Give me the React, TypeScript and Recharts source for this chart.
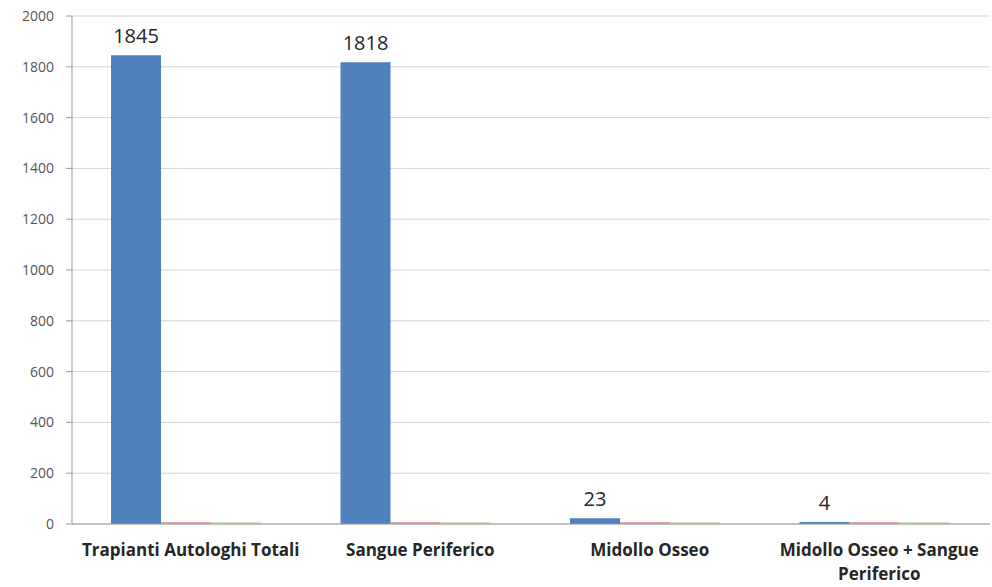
import { BarChart, Bar, XAxis, YAxis, CartesianGrid, LabelList } from 'recharts'

const categories = [
  'Trapianti Autologhi Totali',
  'Sangue Periferico',
  'Midollo Osseo',
  'Midollo Osseo + Sangue Periferico',
]
const serie1 = [1845, 1818, 23, 4]
const serie2 = [0, 0, 0, 0]
const serie3 = [0, 0, 0, 0]
const yTicks = [0, 200, 400, 600, 800, 1000, 1200, 1400, 1600, 1800, 2000]

const data = categories.map((name, i) => ({
  name,
  s1: serie1[i],
  s2: serie2[i],
  s3: serie3[i],
}))

const FONT = '"Open Sans", "Liberation Sans", sans-serif'

function CategoryTick({ x, y, payload }: any) {
  const label: string = payload.value
  const lines = label === 'Midollo Osseo + Sangue Periferico' ? ['Midollo Osseo + Sangue', 'Periferico'] : [label]
  return (
    <g transform={`translate(${x},${y})`}>
      {lines.map((line, i) => (
        <text
          key={i}
          x={4}
          y={24 + i * 24}
          textAnchor="middle"
          fill="#262626"
          fontSize={17}
          fontWeight={700}
          fontFamily={FONT}
        >
          {line}
        </text>
      ))}
    </g>
  )
}

export default function App() {
  return (
    <div style={{ width: 992, height: 587, background: '#fff' }}>
      <style>{'body{margin:0}'}</style>
      <BarChart
        width={992}
        height={587}
        data={data}
        margin={{ top: 16, right: 2, left: 0, bottom: 0 }}
        barCategoryGap="17%"
        barGap={0}
      >
        <CartesianGrid vertical={false} stroke="#d4d4d4" />
        <XAxis
          dataKey="name"
          height={63}
          axisLine={{ stroke: '#9a9a9a' }}
          tickLine={false}
          tick={<CategoryTick />}
          interval={0}
        />
        <YAxis
          width={72}
          domain={[0, 2000]}
          ticks={yTicks}
          axisLine={{ stroke: '#9a9a9a' }}
          tickLine={{ stroke: '#9a9a9a' }}
          tickSize={6}
          tickMargin={12}
          tick={{ fill: '#555', fontSize: 14, fontFamily: FONT }}
        />
        <Bar dataKey="s1" fill="#4F81BD" isAnimationActive={false} minPointSize={2}>
          <LabelList
            dataKey="s1"
            position="top"
            offset={12}
            fill="#262626"
            fontSize={20}
            fontFamily={FONT}
          />
        </Bar>
        <Bar dataKey="s2" fill="#E3A5A3" isAnimationActive={false} minPointSize={2} />
        <Bar dataKey="s3" fill="#D4DEB8" isAnimationActive={false} minPointSize={2} />
      </BarChart>
    </div>
  )
}
